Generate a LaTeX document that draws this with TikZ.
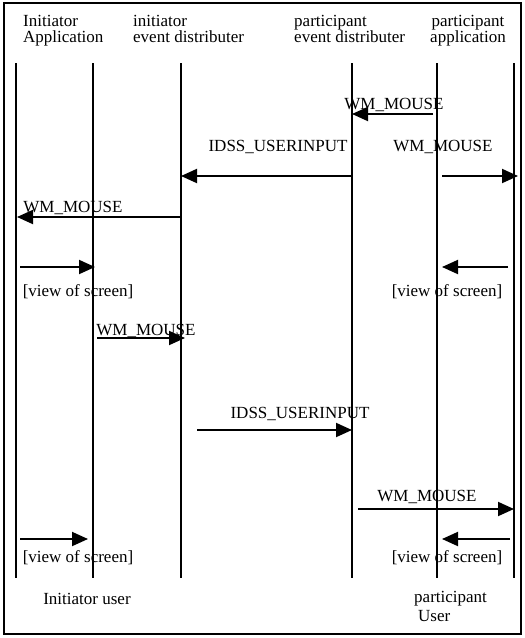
\documentclass[tikz,border=0pt]{standalone}
\usepackage{fontspec}
\setmainfont{Liberation Serif}
\usetikzlibrary{arrows.meta,positioning}

\tikzset{
  lifeline/.style={line width=1.8pt},
  msg/.style={line width=1.9pt, -{Triangle[length=16pt,width=14pt]}},
  lbl/.style={inner sep=0pt, font=\fontsize{17}{16}\selectfont},
  head/.style={lbl, align=left, anchor=north west}
}

\begin{document}
\begin{tikzpicture}[x=1pt,y=-1pt]
  \useasboundingbox (0,0) rectangle (525,638);
  \draw[line width=1.4pt] (4,3) rectangle (521,634);

  % column headers
  \node[head] (hiapp) at (23,15) {Initiator\\Application};
  \node[head] (hied) at (133,15) {initiator\\event distributer};
  \node[head] (hped) at (294,15) {participant\\event distributer};
  \node[lbl, align=center, anchor=north] (hpapp) at (468,15) {participant\\application};

  % lifelines
  \foreach \n/\x in {iapp/16, iuser/93, ied/181, ped/352, puser/437, papp/514} {
    \coordinate (\n top) at (\x,63);
    \coordinate (\n bot) at (\x,578);
    \draw[lifeline] (\n top) -- (\n bot);
  }

  % user labels
  \node[lbl] (uinit) at (87,599) {Initiator user};
  \node[lbl, align=left, anchor=north west] (upart) at (414,591) {participant\\[3pt]\hspace{4pt}User};

  % participant user clicks
  \coordinate (m1s) at (433,114);
  \coordinate (m1e) at (352,114);
  \draw[msg] (m1s) -- (m1e);
  \node[lbl] (l1) at (394,105) {WM\_MOUSE};

  \coordinate (m2s) at (352,176);
  \coordinate (m2e) at (181,176);
  \draw[msg] (m2s) -- (m2e);
  \node[lbl] (l2) at (278,147) {IDSS\_USERINPUT};

  \coordinate (m3s) at (442,176);
  \coordinate (m3e) at (518,176);
  \draw[msg] (m3s) -- (m3e);
  \node[lbl] (l3) at (443,147) {WM\_MOUSE};

  \coordinate (m4s) at (181,217);
  \coordinate (m4e) at (17,217);
  \draw[msg] (m4s) -- (m4e);
  \node[lbl] (l4) at (73,208) {WM\_MOUSE};

  % screen updates
  \coordinate (v1s) at (20,267);
  \coordinate (v1e) at (95,267);
  \draw[msg] (v1s) -- (v1e);
  \node[lbl] (lv1) at (78,292) {[view of screen]};

  \coordinate (v2s) at (508,267);
  \coordinate (v2e) at (442,267);
  \draw[msg] (v2s) -- (v2e);
  \node[lbl] (lv2) at (447,292) {[view of screen]};

  % initiator user clicks
  \coordinate (m5s) at (97,338);
  \coordinate (m5e) at (185,338);
  \draw[msg] (m5s) -- (m5e);
  \node[lbl] (l5) at (146,331) {WM\_MOUSE};

  \coordinate (m6s) at (197,430);
  \coordinate (m6e) at (352,430);
  \draw[msg] (m6s) -- (m6e);
  \node[lbl] (l6) at (300,414) {IDSS\_USERINPUT};

  \coordinate (m7s) at (358,509);
  \coordinate (m7e) at (514,509);
  \draw[msg] (m7s) -- (m7e);
  \node[lbl] (l7) at (427,497) {WM\_MOUSE};

  % screen updates
  \coordinate (v3s) at (20,539);
  \coordinate (v3e) at (88,539);
  \draw[msg] (v3s) -- (v3e);
  \node[lbl] (lv3) at (78,558) {[view of screen]};

  \coordinate (v4s) at (510,539);
  \coordinate (v4e) at (442,539);
  \draw[msg] (v4s) -- (v4e);
  \node[lbl] (lv4) at (447,558) {[view of screen]};
\end{tikzpicture}
\end{document}
